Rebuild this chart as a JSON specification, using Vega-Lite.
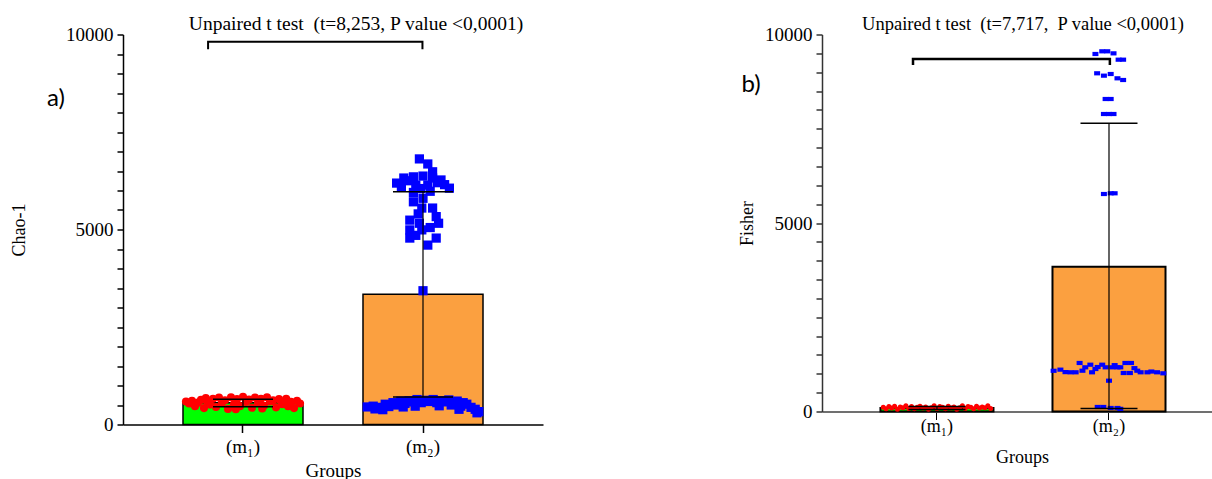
{
  "$schema": "https://vega.github.io/schema/vega-lite/v6.json",
  "background": "white",
  "padding": {"left": 10, "top": 13.5, "right": 0, "bottom": 0},
  "spacing": 195,
  "config": {
    "view": {"stroke": null},
    "axis": {"grid": false, "labelFont": "Liberation Serif", "titleFont": "Liberation Serif", "labelFontSize": 18, "titleFontSize": 18, "titleFontWeight": "normal", "labelColor": "black", "titleColor": "black", "domainColor": "black", "tickColor": "black"},
    "title": {"font": "Liberation Serif", "fontWeight": "normal", "color": "black", "anchor": "middle"}
  },
  "datasets": {
    "a_sum": [
      {"group": "m1", "mean": 555, "lo": 456, "hi": 650},
      {"group": "m2", "mean": 3338, "lo": 706, "hi": 5970}
    ],
    "b_sum": [
      {"group": "m1", "mean": 95, "lo": 55, "hi": 135},
      {"group": "m2", "mean": 3841, "lo": 80, "hi": 7645}
    ],
    "a_br": [
      {"bx": 0.806, "by": 9620, "o": 1},
      {"bx": 0.806, "by": 9815, "o": 2},
      {"bx": 1.997, "by": 9815, "o": 3},
      {"bx": 1.997, "by": 9620, "o": 4}
    ],
    "b_br": [
      {"bx": 0.8605, "by": 9190, "o": 1},
      {"bx": 0.8605, "by": 9350, "o": 2},
      {"bx": 2.005, "by": 9350, "o": 3},
      {"bx": 2.005, "by": 9190, "o": 4}
    ],
    "a_lab": [{"lx": -0.039, "ly": 8346, "t": "a)"}],
    "b_lab": [{"lx": -0.0814, "ly": 8650, "t": "b)"}],
    "a_pts": [
      {"group": "m1", "j": -0.95, "value": 590}, {"group": "m1", "j": -0.9, "value": 540}, {"group": "m1", "j": -0.85, "value": 610}, {"group": "m1", "j": -0.8, "value": 470},
      {"group": "m1", "j": -0.75, "value": 560}, {"group": "m1", "j": -0.7, "value": 630}, {"group": "m1", "j": -0.65, "value": 420}, {"group": "m1", "j": -0.6, "value": 600},
      {"group": "m1", "j": -0.55, "value": 510}, {"group": "m1", "j": -0.5, "value": 660}, {"group": "m1", "j": -0.45, "value": 450}, {"group": "m1", "j": -0.4, "value": 690},
      {"group": "m1", "j": -0.35, "value": 560}, {"group": "m1", "j": -0.3, "value": 620}, {"group": "m1", "j": -0.25, "value": 400}, {"group": "m1", "j": -0.2, "value": 700},
      {"group": "m1", "j": -0.15, "value": 520}, {"group": "m1", "j": -0.1, "value": 650}, {"group": "m1", "j": -0.05, "value": 470}, {"group": "m1", "j": 0.0, "value": 710},
      {"group": "m1", "j": 0.05, "value": 580}, {"group": "m1", "j": 0.1, "value": 640}, {"group": "m1", "j": 0.15, "value": 430}, {"group": "m1", "j": 0.2, "value": 690},
      {"group": "m1", "j": 0.25, "value": 550}, {"group": "m1", "j": 0.3, "value": 660}, {"group": "m1", "j": 0.35, "value": 480}, {"group": "m1", "j": 0.4, "value": 700},
      {"group": "m1", "j": 0.45, "value": 590}, {"group": "m1", "j": 0.5, "value": 620}, {"group": "m1", "j": 0.55, "value": 440}, {"group": "m1", "j": 0.6, "value": 650},
      {"group": "m1", "j": 0.65, "value": 520}, {"group": "m1", "j": 0.7, "value": 600}, {"group": "m1", "j": 0.75, "value": 470}, {"group": "m1", "j": 0.8, "value": 580},
      {"group": "m1", "j": 0.85, "value": 420}, {"group": "m1", "j": 0.9, "value": 610}, {"group": "m1", "j": 0.95, "value": 540}, {"group": "m1", "j": -0.62, "value": 680},
      {"group": "m1", "j": 0.32, "value": 410}, {"group": "m1", "j": -0.12, "value": 390}, {"group": "m1", "j": 0.72, "value": 660},
      {"group": "m2", "j": -0.06, "value": 6810}, {"group": "m2", "j": 0.08, "value": 6680}, {"group": "m2", "j": 0.16, "value": 6480}, {"group": "m2", "j": -0.44, "value": 6190},
      {"group": "m2", "j": -0.32, "value": 6320}, {"group": "m2", "j": -0.16, "value": 6350}, {"group": "m2", "j": 0.0, "value": 6370}, {"group": "m2", "j": 0.16, "value": 6320},
      {"group": "m2", "j": 0.3, "value": 6270}, {"group": "m2", "j": 0.44, "value": 6060}, {"group": "m2", "j": -0.12, "value": 6140}, {"group": "m2", "j": 0.08, "value": 6140},
      {"group": "m2", "j": -0.24, "value": 6250}, {"group": "m2", "j": 0.24, "value": 6200}, {"group": "m2", "j": -0.36, "value": 6100}, {"group": "m2", "j": 0.36, "value": 6150},
      {"group": "m2", "j": -0.16, "value": 5950}, {"group": "m2", "j": 0.12, "value": 5980}, {"group": "m2", "j": -0.04, "value": 6050}, {"group": "m2", "j": -0.16, "value": 5710},
      {"group": "m2", "j": 0.0, "value": 5800}, {"group": "m2", "j": -0.02, "value": 5550}, {"group": "m2", "j": 0.16, "value": 5550}, {"group": "m2", "j": 0.22, "value": 5330},
      {"group": "m2", "j": -0.22, "value": 5240}, {"group": "m2", "j": 0.26, "value": 5160}, {"group": "m2", "j": -0.06, "value": 5160}, {"group": "m2", "j": -0.22, "value": 4990},
      {"group": "m2", "j": -0.02, "value": 4990}, {"group": "m2", "j": -0.22, "value": 4780}, {"group": "m2", "j": 0.22, "value": 4780}, {"group": "m2", "j": 0.08, "value": 4600},
      {"group": "m2", "j": -0.08, "value": 5400}, {"group": "m2", "j": 0.12, "value": 5050}, {"group": "m2", "j": -0.12, "value": 4850}, {"group": "m2", "j": 0.0, "value": 3430},
      {"group": "m2", "j": -0.93, "value": 450}, {"group": "m2", "j": -0.83, "value": 470}, {"group": "m2", "j": -0.73, "value": 440}, {"group": "m2", "j": -0.63, "value": 520},
      {"group": "m2", "j": -0.57, "value": 460}, {"group": "m2", "j": -0.5, "value": 560}, {"group": "m2", "j": -0.43, "value": 500}, {"group": "m2", "j": -0.37, "value": 600},
      {"group": "m2", "j": -0.3, "value": 540}, {"group": "m2", "j": -0.23, "value": 610}, {"group": "m2", "j": -0.17, "value": 580}, {"group": "m2", "j": -0.1, "value": 640},
      {"group": "m2", "j": -0.03, "value": 560}, {"group": "m2", "j": 0.03, "value": 620}, {"group": "m2", "j": 0.1, "value": 590}, {"group": "m2", "j": 0.17, "value": 640},
      {"group": "m2", "j": 0.23, "value": 560}, {"group": "m2", "j": 0.3, "value": 610}, {"group": "m2", "j": 0.37, "value": 580}, {"group": "m2", "j": 0.43, "value": 630},
      {"group": "m2", "j": 0.5, "value": 550}, {"group": "m2", "j": 0.57, "value": 600}, {"group": "m2", "j": 0.63, "value": 470}, {"group": "m2", "j": 0.67, "value": 560},
      {"group": "m2", "j": 0.73, "value": 520}, {"group": "m2", "j": 0.8, "value": 440}, {"group": "m2", "j": 0.87, "value": 390}, {"group": "m2", "j": 0.93, "value": 330},
      {"group": "m2", "j": 0.9, "value": 300}, {"group": "m2", "j": -0.8, "value": 400}, {"group": "m2", "j": -0.33, "value": 450}, {"group": "m2", "j": -0.67, "value": 380},
      {"group": "m2", "j": 0.27, "value": 480}, {"group": "m2", "j": 0.6, "value": 390}, {"group": "m2", "j": -0.13, "value": 470}, {"group": "m2", "j": 0.47, "value": 500}
    ],
    "b_pts": [
      {"group": "m1", "j": -0.95, "value": 110}, {"group": "m1", "j": -0.9, "value": 70}, {"group": "m1", "j": -0.85, "value": 130}, {"group": "m1", "j": -0.8, "value": 90},
      {"group": "m1", "j": -0.75, "value": 140}, {"group": "m1", "j": -0.7, "value": 60}, {"group": "m1", "j": -0.65, "value": 120}, {"group": "m1", "j": -0.6, "value": 100},
      {"group": "m1", "j": -0.55, "value": 150}, {"group": "m1", "j": -0.5, "value": 80}, {"group": "m1", "j": -0.45, "value": 130}, {"group": "m1", "j": -0.4, "value": 70},
      {"group": "m1", "j": -0.35, "value": 110}, {"group": "m1", "j": -0.3, "value": 140}, {"group": "m1", "j": -0.25, "value": 90}, {"group": "m1", "j": -0.2, "value": 120},
      {"group": "m1", "j": -0.15, "value": 60}, {"group": "m1", "j": -0.1, "value": 100}, {"group": "m1", "j": -0.05, "value": 150}, {"group": "m1", "j": 0.0, "value": 80},
      {"group": "m1", "j": 0.05, "value": 130}, {"group": "m1", "j": 0.1, "value": 110}, {"group": "m1", "j": 0.15, "value": 70}, {"group": "m1", "j": 0.2, "value": 140},
      {"group": "m1", "j": 0.25, "value": 90}, {"group": "m1", "j": 0.3, "value": 120}, {"group": "m1", "j": 0.35, "value": 60}, {"group": "m1", "j": 0.4, "value": 100},
      {"group": "m1", "j": 0.45, "value": 150}, {"group": "m1", "j": 0.5, "value": 80}, {"group": "m1", "j": 0.55, "value": 130}, {"group": "m1", "j": 0.6, "value": 110},
      {"group": "m1", "j": 0.65, "value": 70}, {"group": "m1", "j": 0.7, "value": 140}, {"group": "m1", "j": 0.75, "value": 90}, {"group": "m1", "j": 0.8, "value": 120},
      {"group": "m1", "j": 0.85, "value": 100}, {"group": "m1", "j": 0.9, "value": 150}, {"group": "m1", "j": 0.95, "value": 80},
      {"group": "m2", "j": -0.98, "value": 1080}, {"group": "m2", "j": -0.86, "value": 1110}, {"group": "m2", "j": -0.77, "value": 1045}, {"group": "m2", "j": -0.68, "value": 1040},
      {"group": "m2", "j": -0.59, "value": 1040}, {"group": "m2", "j": -0.52, "value": 1287}, {"group": "m2", "j": -0.47, "value": 1082}, {"group": "m2", "j": -0.42, "value": 1172},
      {"group": "m2", "j": -0.33, "value": 1241}, {"group": "m2", "j": -0.3, "value": 1040}, {"group": "m2", "j": -0.24, "value": 1127}, {"group": "m2", "j": -0.12, "value": 1241},
      {"group": "m2", "j": -0.06, "value": 1172}, {"group": "m2", "j": 0.0, "value": 817}, {"group": "m2", "j": 0.06, "value": 1172}, {"group": "m2", "j": 0.15, "value": 1172},
      {"group": "m2", "j": 0.2, "value": 1172}, {"group": "m2", "j": 0.29, "value": 1287}, {"group": "m2", "j": 0.39, "value": 1287}, {"group": "m2", "j": 0.26, "value": 1021},
      {"group": "m2", "j": 0.37, "value": 1021}, {"group": "m2", "j": 0.5, "value": 1082}, {"group": "m2", "j": 0.56, "value": 1040}, {"group": "m2", "j": 0.68, "value": 1040},
      {"group": "m2", "j": 0.85, "value": 1040}, {"group": "m2", "j": 0.96, "value": 1013}, {"group": "m2", "j": -0.2, "value": 1180}, {"group": "m2", "j": 0.1, "value": 1230},
      {"group": "m2", "j": 0.45, "value": 1150}, {"group": "m2", "j": 0.75, "value": 1060},
      {"group": "m2", "j": -0.2, "value": 120}, {"group": "m2", "j": -0.1, "value": 120}, {"group": "m2", "j": 0.03, "value": 93}, {"group": "m2", "j": 0.15, "value": 93}, {"group": "m2", "j": 0.2, "value": 70},
      {"group": "m2", "j": -0.24, "value": 9483}, {"group": "m2", "j": -0.12, "value": 9554}, {"group": "m2", "j": -0.03, "value": 9554}, {"group": "m2", "j": 0.08, "value": 9500},
      {"group": "m2", "j": 0.17, "value": 9332}, {"group": "m2", "j": 0.25, "value": 9332}, {"group": "m2", "j": -0.21, "value": 8971}, {"group": "m2", "j": -0.09, "value": 8908},
      {"group": "m2", "j": 0.03, "value": 8952}, {"group": "m2", "j": 0.15, "value": 8838}, {"group": "m2", "j": 0.25, "value": 8793}, {"group": "m2", "j": -0.06, "value": 8289},
      {"group": "m2", "j": 0.03, "value": 8289}, {"group": "m2", "j": -0.09, "value": 7891}, {"group": "m2", "j": 0.0, "value": 7891}, {"group": "m2", "j": 0.08, "value": 7891},
      {"group": "m2", "j": -0.09, "value": 5769}, {"group": "m2", "j": 0.03, "value": 5788}, {"group": "m2", "j": 0.1, "value": 5788}
    ]
  },
  "hconcat": [
    {
      "width": 420,
      "height": 390,
      "title": {"text": "Unpaired t test\u00a0 (t=8,253, P value <0,0001)", "fontSize": 19.5, "dx": 23, "offset": -8.5},
      "resolve": {"scale": {"x": "independent", "xOffset": "independent"}, "axis": {"x": "independent"}},
      "layer": [
        {
          "data": {"name": "a_sum"},
          "mark": {"type": "bar", "stroke": "black", "strokeWidth": 1.5},
          "encoding": {
            "x": {"field": "group", "type": "nominal", "scale": {"type": "band", "domain": ["m1", "m2"], "paddingInner": 0.3333, "paddingOuter": 0.3333, "round": false},
              "axis": {"title": "Groups", "labelExpr": "datum.value === 'm1' ? '(m\u2081)' : '(m\u2082)'", "labelAngle": 0, "tickSize": 8, "tickWidth": 1.5, "domainWidth": 1.5, "labelPadding": 5, "titlePadding": 5, "labelFontSize": 19, "titleFontSize": 19}},
            "y": {"field": "mean", "type": "quantitative", "title": "Chao-1", "scale": {"domain": [0, 10000], "nice": false},
              "axis": {"values": [0, 500, 1000, 1500, 2000, 2500, 3000, 3500, 4000, 4500, 5000, 5500, 6000, 6500, 7000, 7500, 8000, 8500, 9000, 9500, 10000], "format": "d", "labelExpr": "datum.value % 5000 === 0 ? datum.label : ''", "labelOverlap": false, "tickSize": 6, "tickWidth": 1.5, "domainWidth": 1.5, "labelPadding": 4, "titlePadding": 37.5, "labelFontSize": 19}},
            "color": {"field": "group", "type": "nominal", "scale": {"domain": ["m1", "m2"], "range": ["#00FF00", "#FBA040"]}, "legend": null}
          }
        },
        {
          "data": {"name": "a_pts"},
          "transform": [{"filter": "datum.group === 'm1'"}],
          "mark": {"type": "point", "filled": true, "opacity": 1, "shape": "circle", "size": 66, "color": "#FF0000"},
          "encoding": {
            "x": {"field": "group", "type": "nominal", "scale": {"type": "band", "domain": ["m1", "m2"], "paddingInner": 0.3333, "paddingOuter": 0.3333, "round": false}, "axis": null},
            "xOffset": {"field": "j", "type": "quantitative", "scale": {"domain": [-1, 1]}},
            "y": {"field": "value", "type": "quantitative", "title": "Chao-1",
              "axis": {"values": [0, 500, 1000, 1500, 2000, 2500, 3000, 3500, 4000, 4500, 5000, 5500, 6000, 6500, 7000, 7500, 8000, 8500, 9000, 9500, 10000], "format": "d", "labelExpr": "datum.value % 5000 === 0 ? datum.label : ''", "labelOverlap": false, "tickSize": 6, "tickWidth": 1.5, "domainWidth": 1.5, "labelPadding": 4, "titlePadding": 37.5, "labelFontSize": 19}}
          }
        },
        {
          "data": {"name": "a_pts"},
          "transform": [{"filter": "datum.group === 'm2'"}],
          "mark": {"type": "point", "filled": true, "opacity": 1, "shape": "square", "size": 85, "color": "#0000FF"},
          "encoding": {
            "x": {"field": "group", "type": "nominal", "scale": {"type": "band", "domain": ["m1", "m2"], "paddingInner": 0.3333, "paddingOuter": 0.3333, "round": false}, "axis": null},
            "xOffset": {"field": "j", "type": "quantitative", "scale": {"domain": [-1, 1]}},
            "y": {"field": "value", "type": "quantitative", "title": "Chao-1",
              "axis": {"values": [0, 500, 1000, 1500, 2000, 2500, 3000, 3500, 4000, 4500, 5000, 5500, 6000, 6500, 7000, 7500, 8000, 8500, 9000, 9500, 10000], "format": "d", "labelExpr": "datum.value % 5000 === 0 ? datum.label : ''", "labelOverlap": false, "tickSize": 6, "tickWidth": 1.5, "domainWidth": 1.5, "labelPadding": 4, "titlePadding": 37.5, "labelFontSize": 19}}
          }
        },
        {
          "data": {"name": "a_sum"},
          "mark": {"type": "rule", "color": "black", "strokeWidth": 1.2},
          "encoding": {
            "x": {"field": "group", "type": "nominal", "scale": {"type": "band", "domain": ["m1", "m2"], "paddingInner": 0.3333, "paddingOuter": 0.3333, "round": false}, "axis": null},
            "y": {"field": "lo", "type": "quantitative", "title": "Chao-1",
              "axis": {"values": [0, 500, 1000, 1500, 2000, 2500, 3000, 3500, 4000, 4500, 5000, 5500, 6000, 6500, 7000, 7500, 8000, 8500, 9000, 9500, 10000], "format": "d", "labelExpr": "datum.value % 5000 === 0 ? datum.label : ''", "labelOverlap": false, "tickSize": 6, "tickWidth": 1.5, "domainWidth": 1.5, "labelPadding": 4, "titlePadding": 37.5, "labelFontSize": 19}},
            "y2": {"field": "hi"}
          }
        },
        {
          "data": {"name": "a_sum"},
          "mark": {"type": "tick", "orient": "horizontal", "size": 60, "thickness": 1.5, "color": "black", "opacity": 1},
          "encoding": {
            "x": {"field": "group", "type": "nominal", "scale": {"type": "band", "domain": ["m1", "m2"], "paddingInner": 0.3333, "paddingOuter": 0.3333, "round": false}, "axis": null},
            "y": {"field": "lo", "type": "quantitative", "title": "Chao-1",
              "axis": {"values": [0, 500, 1000, 1500, 2000, 2500, 3000, 3500, 4000, 4500, 5000, 5500, 6000, 6500, 7000, 7500, 8000, 8500, 9000, 9500, 10000], "format": "d", "labelExpr": "datum.value % 5000 === 0 ? datum.label : ''", "labelOverlap": false, "tickSize": 6, "tickWidth": 1.5, "domainWidth": 1.5, "labelPadding": 4, "titlePadding": 37.5, "labelFontSize": 19}}
          }
        },
        {
          "data": {"name": "a_sum"},
          "mark": {"type": "tick", "orient": "horizontal", "size": 60, "thickness": 1.5, "color": "black", "opacity": 1},
          "encoding": {
            "x": {"field": "group", "type": "nominal", "scale": {"type": "band", "domain": ["m1", "m2"], "paddingInner": 0.3333, "paddingOuter": 0.3333, "round": false}, "axis": null},
            "y": {"field": "hi", "type": "quantitative", "title": "Chao-1",
              "axis": {"values": [0, 500, 1000, 1500, 2000, 2500, 3000, 3500, 4000, 4500, 5000, 5500, 6000, 6500, 7000, 7500, 8000, 8500, 9000, 9500, 10000], "format": "d", "labelExpr": "datum.value % 5000 === 0 ? datum.label : ''", "labelOverlap": false, "tickSize": 6, "tickWidth": 1.5, "domainWidth": 1.5, "labelPadding": 4, "titlePadding": 37.5, "labelFontSize": 19}}
          }
        },
        {
          "data": {"name": "a_br"},
          "mark": {"type": "line", "color": "black", "strokeWidth": 2},
          "encoding": {
            "x": {"field": "bx", "type": "quantitative", "scale": {"domain": [0.3333, 2.6667], "nice": false, "zero": false}, "axis": null},
            "y": {"field": "by", "type": "quantitative", "title": "Chao-1",
              "axis": {"values": [0, 500, 1000, 1500, 2000, 2500, 3000, 3500, 4000, 4500, 5000, 5500, 6000, 6500, 7000, 7500, 8000, 8500, 9000, 9500, 10000], "format": "d", "labelExpr": "datum.value % 5000 === 0 ? datum.label : ''", "labelOverlap": false, "tickSize": 6, "tickWidth": 1.5, "domainWidth": 1.5, "labelPadding": 4, "titlePadding": 37.5, "labelFontSize": 19}},
            "order": {"field": "o"}
          }
        },
        {
          "data": {"name": "a_lab"},
          "mark": {"type": "text", "font": "Lato", "fontSize": 24, "align": "center", "baseline": "middle", "color": "black"},
          "encoding": {
            "x": {"field": "lx", "type": "quantitative", "scale": {"domain": [0.3333, 2.6667], "nice": false, "zero": false}, "axis": null},
            "y": {"field": "ly", "type": "quantitative", "title": "Chao-1",
              "axis": {"values": [0, 500, 1000, 1500, 2000, 2500, 3000, 3500, 4000, 4500, 5000, 5500, 6000, 6500, 7000, 7500, 8000, 8500, 9000, 9500, 10000], "format": "d", "labelExpr": "datum.value % 5000 === 0 ? datum.label : ''", "labelOverlap": false, "tickSize": 6, "tickWidth": 1.5, "domainWidth": 1.5, "labelPadding": 4, "titlePadding": 37.5, "labelFontSize": 19}},
            "text": {"field": "t"}
          }
        }
      ]
    },
    {
      "width": 390,
      "height": 377,
      "title": {"text": "Unpaired t test\u00a0 (t=7,717,\u00a0 P value <0,0001)", "fontSize": 18.5, "dx": 6, "offset": -8.2},
      "resolve": {"scale": {"x": "independent", "xOffset": "independent"}, "axis": {"x": "independent"}},
      "layer": [
        {
          "data": {"name": "b_sum"},
          "mark": {"type": "bar", "stroke": "black", "strokeWidth": 2},
          "encoding": {
            "x": {"field": "group", "type": "nominal", "scale": {"type": "band", "domain": ["m1", "m2"], "paddingInner": 0.343, "paddingOuter": 0.305, "align": 0.557, "round": false},
              "axis": {"title": "Groups", "labelExpr": "datum.value === 'm1' ? '(m\u2081)' : '(m\u2082)'", "labelAngle": 0, "tickSize": 8, "tickWidth": 1, "domainWidth": 2, "domainColor": "#707070", "labelPadding": -2, "titlePadding": 13, "titleX": 200}},
            "y": {"field": "mean", "type": "quantitative", "title": "Fisher", "scale": {"domain": [0, 10000], "nice": false},
              "axis": {"values": [0, 500, 1000, 1500, 2000, 2500, 3000, 3500, 4000, 4500, 5000, 5500, 6000, 6500, 7000, 7500, 8000, 8500, 9000, 9500, 10000], "format": "d", "labelExpr": "datum.value % 5000 === 0 ? datum.label : ''", "labelOverlap": false, "tickSize": 6, "tickWidth": 1.2, "domainWidth": 1.5, "domainColor": "#333333", "labelPadding": 4, "titlePadding": 8, "labelFontSize": 19}},
            "color": {"field": "group", "type": "nominal", "scale": {"domain": ["m1", "m2"], "range": ["#00FF00", "#FBA040"]}, "legend": null}
          }
        },
        {
          "data": {"name": "b_pts"},
          "transform": [{"filter": "datum.group === 'm1'"}],
          "mark": {"type": "point", "filled": true, "opacity": 1, "shape": "circle", "size": 25, "color": "#FF0000"},
          "encoding": {
            "x": {"field": "group", "type": "nominal", "scale": {"type": "band", "domain": ["m1", "m2"], "paddingInner": 0.343, "paddingOuter": 0.305, "align": 0.557, "round": false}, "axis": null},
            "xOffset": {"field": "j", "type": "quantitative", "scale": {"domain": [-1, 1]}},
            "y": {"field": "value", "type": "quantitative", "title": "Fisher",
              "axis": {"values": [0, 500, 1000, 1500, 2000, 2500, 3000, 3500, 4000, 4500, 5000, 5500, 6000, 6500, 7000, 7500, 8000, 8500, 9000, 9500, 10000], "format": "d", "labelExpr": "datum.value % 5000 === 0 ? datum.label : ''", "labelOverlap": false, "tickSize": 6, "tickWidth": 1.2, "domainWidth": 1.5, "domainColor": "#333333", "labelPadding": 4, "titlePadding": 8, "labelFontSize": 19}}
          }
        },
        {
          "data": {"name": "b_pts"},
          "transform": [{"filter": "datum.group === 'm2'"}],
          "mark": {"type": "point", "filled": true, "opacity": 1, "shape": "M-1,-0.7H1V0.7H-1Z", "size": 36, "color": "#0000FF"},
          "encoding": {
            "x": {"field": "group", "type": "nominal", "scale": {"type": "band", "domain": ["m1", "m2"], "paddingInner": 0.343, "paddingOuter": 0.305, "align": 0.557, "round": false}, "axis": null},
            "xOffset": {"field": "j", "type": "quantitative", "scale": {"domain": [-1, 1]}},
            "y": {"field": "value", "type": "quantitative", "title": "Fisher",
              "axis": {"values": [0, 500, 1000, 1500, 2000, 2500, 3000, 3500, 4000, 4500, 5000, 5500, 6000, 6500, 7000, 7500, 8000, 8500, 9000, 9500, 10000], "format": "d", "labelExpr": "datum.value % 5000 === 0 ? datum.label : ''", "labelOverlap": false, "tickSize": 6, "tickWidth": 1.2, "domainWidth": 1.5, "domainColor": "#333333", "labelPadding": 4, "titlePadding": 8, "labelFontSize": 19}}
          }
        },
        {
          "data": {"name": "b_sum"},
          "mark": {"type": "rule", "color": "black", "strokeWidth": 1.2},
          "encoding": {
            "x": {"field": "group", "type": "nominal", "scale": {"type": "band", "domain": ["m1", "m2"], "paddingInner": 0.343, "paddingOuter": 0.305, "align": 0.557, "round": false}, "axis": null},
            "y": {"field": "lo", "type": "quantitative", "title": "Fisher",
              "axis": {"values": [0, 500, 1000, 1500, 2000, 2500, 3000, 3500, 4000, 4500, 5000, 5500, 6000, 6500, 7000, 7500, 8000, 8500, 9000, 9500, 10000], "format": "d", "labelExpr": "datum.value % 5000 === 0 ? datum.label : ''", "labelOverlap": false, "tickSize": 6, "tickWidth": 1.2, "domainWidth": 1.5, "domainColor": "#333333", "labelPadding": 4, "titlePadding": 8, "labelFontSize": 19}},
            "y2": {"field": "hi"}
          }
        },
        {
          "data": {"name": "b_sum"},
          "mark": {"type": "tick", "orient": "horizontal", "size": 57, "thickness": 1.5, "color": "black", "opacity": 1},
          "encoding": {
            "x": {"field": "group", "type": "nominal", "scale": {"type": "band", "domain": ["m1", "m2"], "paddingInner": 0.343, "paddingOuter": 0.305, "align": 0.557, "round": false}, "axis": null},
            "y": {"field": "lo", "type": "quantitative", "title": "Fisher",
              "axis": {"values": [0, 500, 1000, 1500, 2000, 2500, 3000, 3500, 4000, 4500, 5000, 5500, 6000, 6500, 7000, 7500, 8000, 8500, 9000, 9500, 10000], "format": "d", "labelExpr": "datum.value % 5000 === 0 ? datum.label : ''", "labelOverlap": false, "tickSize": 6, "tickWidth": 1.2, "domainWidth": 1.5, "domainColor": "#333333", "labelPadding": 4, "titlePadding": 8, "labelFontSize": 19}}
          }
        },
        {
          "data": {"name": "b_sum"},
          "mark": {"type": "tick", "orient": "horizontal", "size": 57, "thickness": 1.5, "color": "black", "opacity": 1},
          "encoding": {
            "x": {"field": "group", "type": "nominal", "scale": {"type": "band", "domain": ["m1", "m2"], "paddingInner": 0.343, "paddingOuter": 0.305, "align": 0.557, "round": false}, "axis": null},
            "y": {"field": "hi", "type": "quantitative", "title": "Fisher",
              "axis": {"values": [0, 500, 1000, 1500, 2000, 2500, 3000, 3500, 4000, 4500, 5000, 5500, 6000, 6500, 7000, 7500, 8000, 8500, 9000, 9500, 10000], "format": "d", "labelExpr": "datum.value % 5000 === 0 ? datum.label : ''", "labelOverlap": false, "tickSize": 6, "tickWidth": 1.2, "domainWidth": 1.5, "domainColor": "#333333", "labelPadding": 4, "titlePadding": 8, "labelFontSize": 19}}
          }
        },
        {
          "data": {"name": "b_br"},
          "mark": {"type": "line", "color": "black", "strokeWidth": 2.5},
          "encoding": {
            "x": {"field": "bx", "type": "quantitative", "scale": {"domain": [0.3314, 2.5988], "nice": false, "zero": false}, "axis": null},
            "y": {"field": "by", "type": "quantitative", "title": "Fisher",
              "axis": {"values": [0, 500, 1000, 1500, 2000, 2500, 3000, 3500, 4000, 4500, 5000, 5500, 6000, 6500, 7000, 7500, 8000, 8500, 9000, 9500, 10000], "format": "d", "labelExpr": "datum.value % 5000 === 0 ? datum.label : ''", "labelOverlap": false, "tickSize": 6, "tickWidth": 1.2, "domainWidth": 1.5, "domainColor": "#333333", "labelPadding": 4, "titlePadding": 8, "labelFontSize": 19}},
            "order": {"field": "o"}
          }
        },
        {
          "data": {"name": "b_lab"},
          "mark": {"type": "text", "font": "Lato", "fontSize": 24, "align": "center", "baseline": "middle", "color": "black"},
          "encoding": {
            "x": {"field": "lx", "type": "quantitative", "scale": {"domain": [0.3314, 2.5988], "nice": false, "zero": false}, "axis": null},
            "y": {"field": "ly", "type": "quantitative", "title": "Fisher",
              "axis": {"values": [0, 500, 1000, 1500, 2000, 2500, 3000, 3500, 4000, 4500, 5000, 5500, 6000, 6500, 7000, 7500, 8000, 8500, 9000, 9500, 10000], "format": "d", "labelExpr": "datum.value % 5000 === 0 ? datum.label : ''", "labelOverlap": false, "tickSize": 6, "tickWidth": 1.2, "domainWidth": 1.5, "domainColor": "#333333", "labelPadding": 4, "titlePadding": 8, "labelFontSize": 19}},
            "text": {"field": "t"}
          }
        }
      ]
    }
  ]
}
